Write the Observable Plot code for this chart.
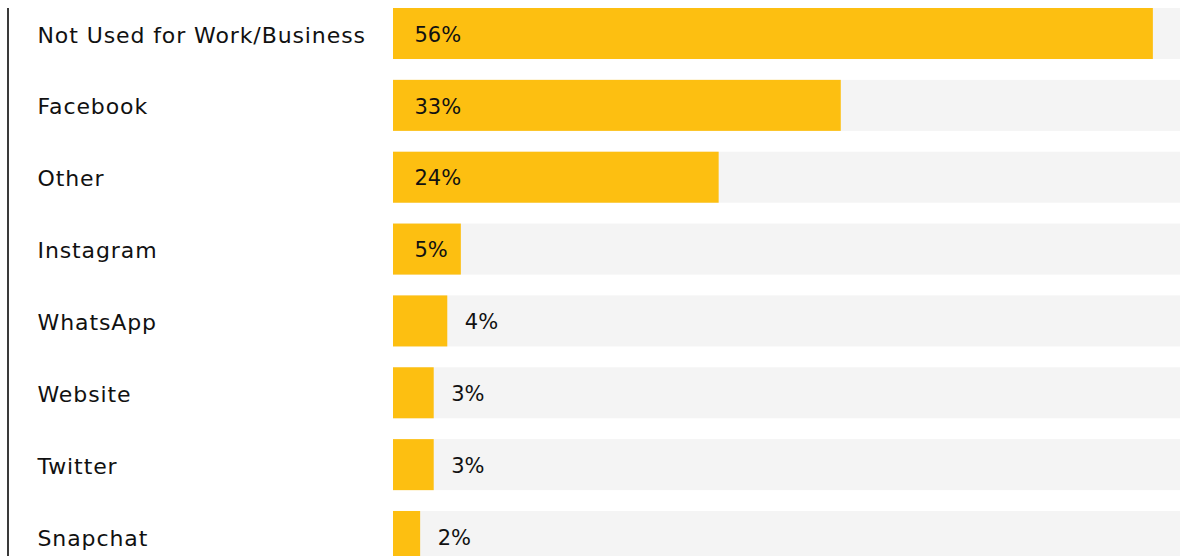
<!DOCTYPE html>
<html><head><meta charset="utf-8">
<script src="https://cdn.jsdelivr.net/npm/d3@7"></script>
<script src="https://cdn.jsdelivr.net/npm/@observablehq/plot@0.6"></script>
<style>
html,body{margin:0;padding:0;background:#fff;}
#wrap{position:relative;width:1186px;height:556px;overflow:hidden;}
#wrap::before{content:"";position:absolute;left:7px;top:8px;bottom:0;width:2px;background:#3a3a3a;}
.cat text{letter-spacing:0.9px;}
</style></head><body><div id="wrap"></div>
<script>
const categories = ["Not Used for Work/Business","Facebook","Other","Instagram","WhatsApp","Website","Twitter","Snapchat"];
const values = [56,33,24,5,4,3,3,2];
const valueLabels = ["56%","33%","24%","5%","4%","3%","3%","2%"];
const xMax = 58;
const insideThreshold = 5;

const rows = categories.map((c,i)=>({category:c, value:values[i], label:valueLabels[i]}));

const chart = Plot.plot({
  width:1186, height:556,
  marginTop:0, marginBottom:0, marginLeft:0, marginRight:0,
  x:{domain:[0,xMax], range:[393,1180], axis:null},
  y:{domain:categories, range:[8,562], paddingInner:0.29, paddingOuter:0, align:0, round:false, axis:null},
  style:{fontFamily:"DejaVu Sans", fontSize:"22px", color:"#111", background:"#fff", overflow:"hidden"},
  marks:[
    Plot.barX(rows,{y:"category", x1:()=>0, x2:()=>xMax, fill:"#f4f4f4"}),
    Plot.barX(rows,{y:"category", x:"value", fill:"#fdbf11"}),
    Plot.text(rows,{y:"category", frameAnchor:"left", dx:37, dy:1.5, text:"category", textAnchor:"start", fill:"#111", fontSize:22, className:"cat"}),
    Plot.text(rows.filter(d=>d.value>=insideThreshold),{y:"category", x:()=>0, dx:21, dy:1, text:"label", textAnchor:"start", fill:"#111", fontSize:21}),
    Plot.text(rows.filter(d=>d.value<insideThreshold),{y:"category", x:"value", dx:17, dy:1, text:"label", textAnchor:"start", fill:"#111", fontSize:21})
  ]
});
document.getElementById("wrap").appendChild(chart);
</script>
</body></html>
